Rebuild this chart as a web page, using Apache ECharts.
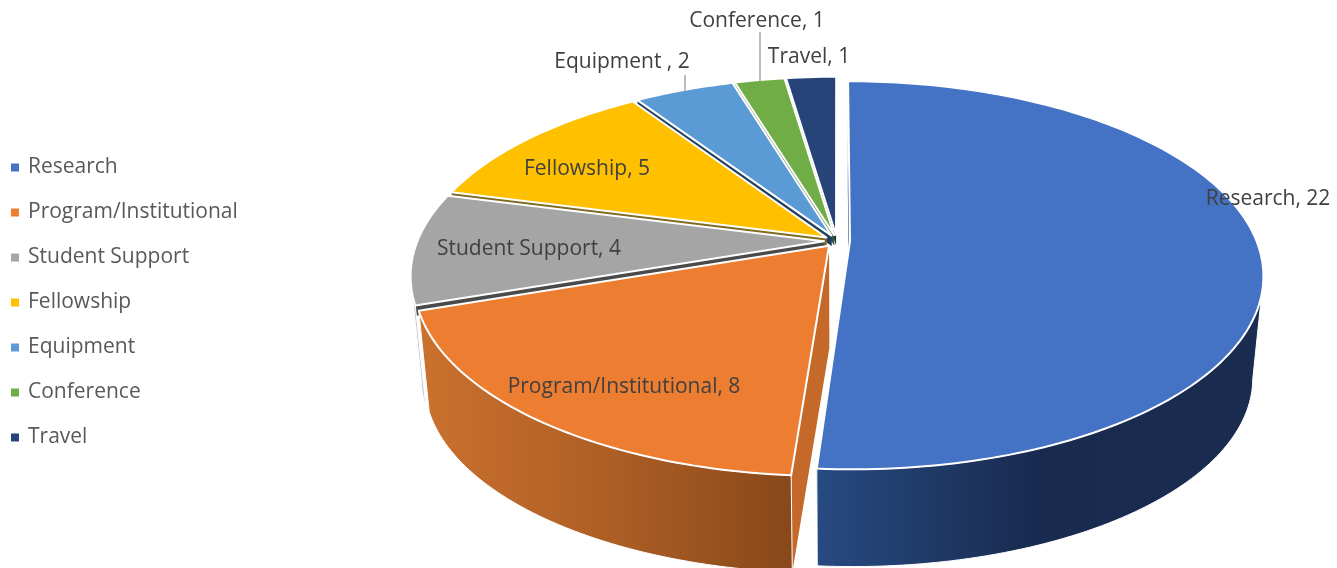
<!DOCTYPE html>
<html>
<head>
<meta charset="utf-8">
<style>
  html, body { margin: 0; padding: 0; background: #fff; }
  #chart { width: 1337px; height: 568px; }
</style>
<script src="https://cdn.jsdelivr.net/npm/echarts@6/dist/echarts.min.js"></script>
</head>
<body>
<div id="chart"></div>
<script>
const categories = ['Research', 'Program/Institutional', 'Student Support', 'Fellowship', 'Equipment', 'Conference', 'Travel']
const values = [22, 8, 4, 5, 2, 1, 1]
const labelNames = ['Research', 'Program/Institutional', 'Student Support', 'Fellowship', 'Equipment ', 'Conference', 'Travel']

const topColors = ['#4472c4', '#ed7d31', '#a5a5a5', '#ffc000', '#5b9bd5', '#70ad47', '#264478']
const cutColors = ['#2f5597', '#c5692a', '#4a4a4a', '#7f6a20', '#22405f', '#38582a', '#16294a']
const wallStops = [
  ['#274a82', '#182a4e', '#1a2c50'],
  ['#cb712e', '#ae5f25', '#88481a'],
  ['#c4c4c4', '#c4c4c4', '#c4c4c4'],
  ['#c79600', '#c79600', '#c79600'],
  ['#3f78aa', '#3f78aa', '#3f78aa'],
  ['#4f7d30', '#4f7d30', '#4f7d30'],
  ['#1a3059', '#1a3059', '#1a3059']
]
// how far down the cut faces of each slice are drawn, the back ones only show in the gaps
const cutDepth = [1, 1, 0.1, 0.1, 0.1, 0.1, 0.1]

// label centres, moved by hand like in the original
const labelSpots = [
  [1268, 199], [624, 387], [529, 249], [587, 169], [622, 62], [757, 21], [809, 57]
]
const leaderLines = [
  [685, 75, 685, 91],
  [760, 32, 760, 81]
]

// perspective of the pie plane
const cx = 837
const cy = 241
const fx = 406.5
const fy = 188
const persp = 0.1753
const explode = 0.032
const depth = 103
const bottomScale = 0.975

const total = values.reduce((a, b) => a + b, 0)

function project(u, v) {
  const w = 1 + persp * v
  return [cx + fx * u / w, cy - fy * v / w]
}

function lower(p, t = 1) {
  const x = cx + bottomScale * (p[0] - cx)
  const y = cy + bottomScale * (p[1] - cy) + depth
  return [p[0] + (x - p[0]) * t, p[1] + (y - p[1]) * t]
}

function sliceStart(i) {
  const before = values.slice(0, i).reduce((a, b) => a + b, 0)
  return before / total * Math.PI * 2
}

function renderSlice(i, value) {
  const a0 = sliceStart(i)
  const a1 = a0 + value / total * Math.PI * 2
  const mid = (a0 + a1) / 2
  const du = explode * Math.sin(mid)
  const dv = explode * Math.cos(mid)
  const apex = project(du, dv)
  const rim = []
  const front = []
  const steps = Math.max(4, Math.round((a1 - a0) / 0.02))
  for (let s = 0; s <= steps; s++) {
    const a = a0 + (a1 - a0) * s / steps
    const p = project(Math.sin(a) + du, Math.cos(a) + dv)
    rim.push(p)
    // only the part of the rim facing the viewer gets an outer wall
    if (Math.cos(a) < -persp) front.push(p)
  }
  const t = cutDepth[i]
  const apexLow = lower(apex, t)
  const first = rim[0]
  const last = rim[rim.length - 1]
  const stops = wallStops[i]

  const children = [
    {
      type: 'polygon',
      shape: { points: [apex, first, lower(first, t), apexLow] },
      style: { fill: cutColors[i] }
    },
    {
      type: 'polygon',
      shape: { points: [apex, last, lower(last, t), apexLow] },
      style: { fill: cutColors[i] }
    }
  ]
  if (front.length > 1) {
    children.push({
      type: 'polygon',
      shape: { points: front.concat(front.map(p => lower(p)).reverse()) },
      style: {
        fill: {
          type: 'linear', x: 0, y: 0, x2: 1, y2: 0,
          colorStops: [
            { offset: 0, color: stops[0] },
            { offset: 0.5, color: stops[1] },
            { offset: 1, color: stops[2] }
          ]
        },
        stroke: '#fff',
        lineWidth: 1
      }
    })
  }
  children.push({
    type: 'polygon',
    shape: { points: [apex].concat(rim) },
    style: { fill: topColors[i], stroke: '#fff', lineWidth: 2, lineJoin: 'round' }
  })
  return { type: 'group', children }
}

// painted back to front
const paintOrder = [6, 5, 4, 3, 2, 1, 0]
const series = paintOrder.map(i => ({
  name: categories[i],
  type: 'custom',
  coordinateSystem: 'none',
  clip: false,
  silent: true,
  itemStyle: { color: topColors[i] },
  data: [[values[i]]],
  renderItem: (params, api) => renderSlice(i, api.value(0))
}))

const labelFont = '"Open Sans", "Noto Sans", sans-serif'
const graphics = categories.map((c, i) => ({
  type: 'text',
  x: labelSpots[i][0],
  y: labelSpots[i][1],
  z: 100,
  style: {
    text: `${labelNames[i]}, ${values[i]}`,
    font: `21px ${labelFont}`,
    fill: '#404040',
    align: 'center',
    verticalAlign: 'middle'
  }
}))
leaderLines.forEach(l => {
  graphics.push({
    type: 'line',
    z: 99,
    shape: { x1: l[0], y1: l[1], x2: l[2], y2: l[3] },
    style: { stroke: '#a6a6a6', lineWidth: 1.5 }
  })
})

const chart = echarts.init(document.getElementById('chart'), null, { renderer: 'canvas' })
chart.setOption({
  animation: false,
  backgroundColor: '#fff',
  legend: {
    orient: 'vertical',
    left: 6,
    top: 152,
    icon: 'rect',
    itemWidth: 8,
    itemHeight: 8,
    itemGap: 24,
    data: categories,
    selectedMode: false,
    textStyle: {
      fontFamily: labelFont,
      fontSize: 21,
      lineHeight: 20,
      color: '#595959',
      padding: [0, 0, 0, 4]
    }
  },
  series,
  graphic: graphics
})
</script>
</body>
</html>
